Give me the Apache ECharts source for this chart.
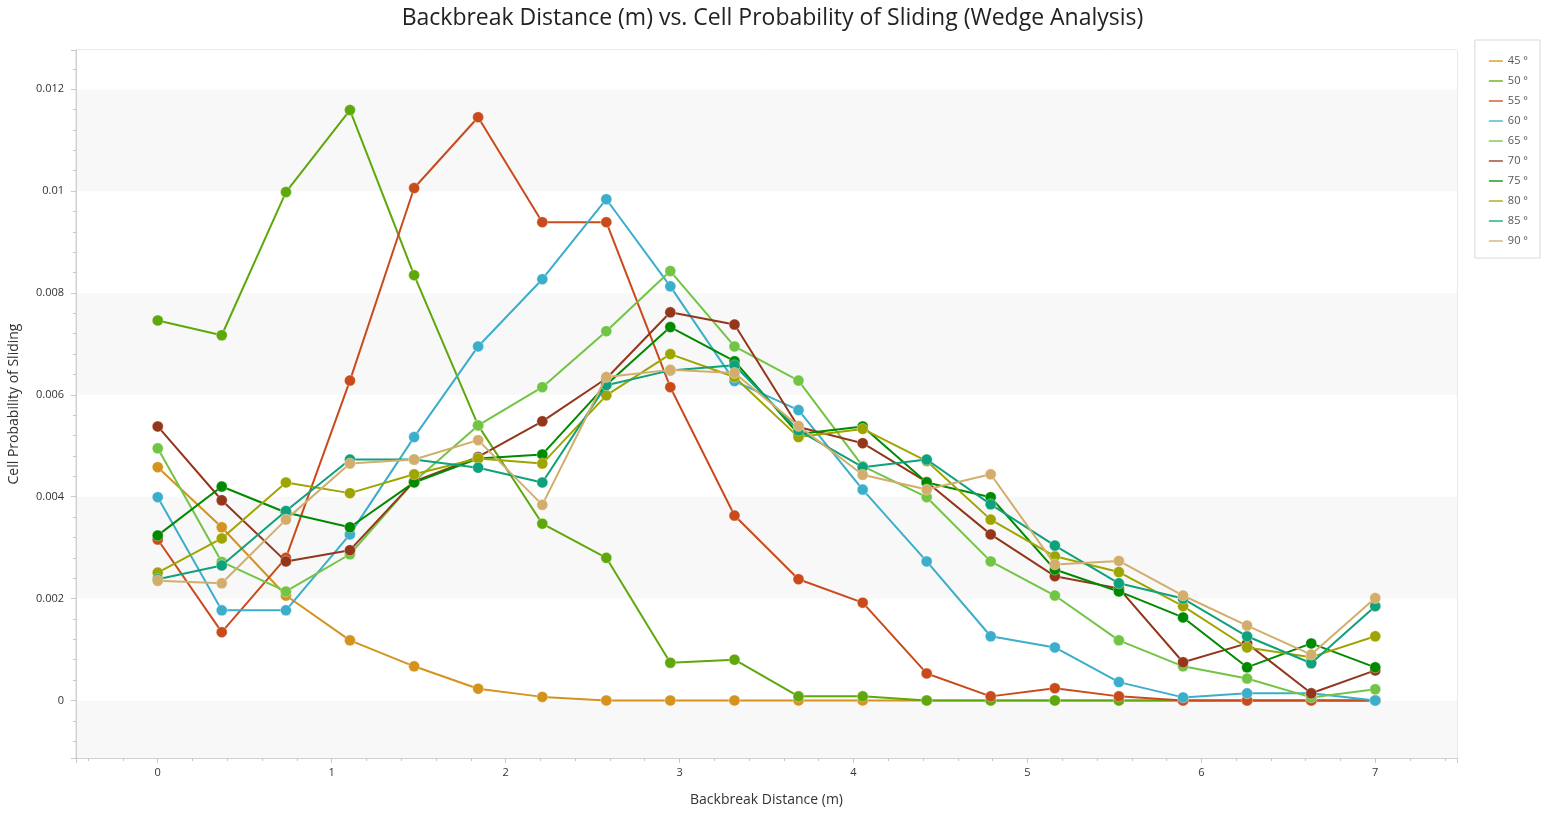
<!DOCTYPE html>
<html>
<head>
<meta charset="utf-8">
<script src="https://cdn.jsdelivr.net/npm/echarts@6/dist/echarts.min.js"></script>
<style>
html,body{margin:0;padding:0;background:#fff;}
#chart{width:1545px;height:815px;}
</style>
</head>
<body>
<div id="chart"></div>
<script>
const xValues = [0, 0.368, 0.737, 1.105, 1.474, 1.842, 2.211, 2.579, 2.947, 3.316, 3.684, 4.053, 4.421, 4.789, 5.158, 5.526, 5.895, 6.263, 6.632, 7];
const seriesNames = ['45 °', '50 °', '55 °', '60 °', '65 °', '70 °', '75 °', '80 °', '85 °', '90 °'];
const s45 = [0.00458, 0.0034, 0.00206, 0.00118, 0.00067, 0.00023, 0.00007, 0, 0, 0, 0, 0, 0, 0, 0, 0, 0, 0, 0, 0];
const s50 = [0.00746, 0.00717, 0.00998, 0.01159, 0.00835, 0.0054, 0.00347, 0.0028, 0.00074, 0.0008, 0.00008, 0.00008, 0, 0, 0, 0, 0, 0, 0, 0];
const s55 = [0.00316, 0.00134, 0.0028, 0.00628, 0.01006, 0.01145, 0.00939, 0.00939, 0.00615, 0.00363, 0.00238, 0.00192, 0.00053, 0.00008, 0.00024, 0.00008, 0, 0, 0, 0];
const s60 = [0.00399, 0.00177, 0.00177, 0.00326, 0.00517, 0.00695, 0.00827, 0.00984, 0.00813, 0.00627, 0.0057, 0.00414, 0.00273, 0.00126, 0.00104, 0.00036, 0.00006, 0.00014, 0.00014, 0];
const s65 = [0.00495, 0.00272, 0.00214, 0.00287, 0.0043, 0.0054, 0.00615, 0.00725, 0.00843, 0.00695, 0.00628, 0.0046, 0.00399, 0.00273, 0.00206, 0.00118, 0.00067, 0.00043, 0.00006, 0.00022];
const s70 = [0.00538, 0.00393, 0.00273, 0.00295, 0.0043, 0.00478, 0.00548, 0.00632, 0.00762, 0.00738, 0.00537, 0.00505, 0.00429, 0.00326, 0.00244, 0.0022, 0.00075, 0.00112, 0.00014, 0.00059];
const s75 = [0.00324, 0.0042, 0.00369, 0.0034, 0.00428, 0.00475, 0.00483, 0.0062, 0.00733, 0.00666, 0.00523, 0.00538, 0.00428, 0.00399, 0.00257, 0.00214, 0.00163, 0.00065, 0.00112, 0.00065];
const s80 = [0.00251, 0.00318, 0.00428, 0.00407, 0.00444, 0.00475, 0.00465, 0.00599, 0.0068, 0.00635, 0.00517, 0.00533, 0.0047, 0.00355, 0.00283, 0.00252, 0.00185, 0.00104, 0.00085, 0.00126];
const s85 = [0.00238, 0.00265, 0.00372, 0.00473, 0.00473, 0.00457, 0.00428, 0.00619, 0.00648, 0.00658, 0.0053, 0.00458, 0.00473, 0.00385, 0.00304, 0.0023, 0.002, 0.00126, 0.00073, 0.00185];
const s90 = [0.00235, 0.0023, 0.00355, 0.00465, 0.00473, 0.00511, 0.00384, 0.00635, 0.00649, 0.00643, 0.00539, 0.00443, 0.00414, 0.00444, 0.00267, 0.00274, 0.00206, 0.00147, 0.0009, 0.00201];
const allSeries = [s45, s50, s55, s60, s65, s70, s75, s80, s85, s90];
const colors = ['#D4921E', '#5FA80C', '#C94B1C', '#3AAECB', '#72C444', '#93361A', '#008A00', '#9FA500', '#0FA07C', '#D2AD6B'];

const FONT = '"Open Sans", "Noto Sans", sans-serif';
const chart = echarts.init(document.getElementById('chart'), null, {renderer: 'canvas'});

function isMultiple(v, step) {
  const r = v / step;
  return Math.abs(r - Math.round(r)) < 1e-6;
}

const option = {
  animation: false,
  color: colors,
  title: {
    text: 'Backbreak Distance (m) vs. Cell Probability of Sliding (Wedge Analysis)',
    left: 'center',
    top: 2,
    textStyle: {fontFamily: FONT, fontSize: 23, fontWeight: 'normal', color: '#222'}
  },
  legend: {
    orient: 'vertical',
    right: 5,
    top: 40,
    padding: [15, 12, 11, 13],
    borderColor: '#d8d8d8',
    borderWidth: 1,
    itemWidth: 14,
    itemHeight: 10,
    itemGap: 8,
    icon: 'path://M0,4 L14,4 L14,6 L0,6 Z',
    textStyle: {fontFamily: FONT, fontSize: 11, color: '#555', lineHeight: 12},
    data: seriesNames
  },
  grid: {
    left: 76, right: 88, top: 50, bottom: 57,
    containLabel: false,
    outerBoundsMode: 'none',
    show: true, borderColor: '#d4d4d4', borderWidth: 1, backgroundColor: 'transparent'
  },
  xAxis: {
    type: 'value',
    min: -0.47,
    max: 7.47,
    splitNumber: 8,
    name: 'Backbreak Distance (m)',
    nameLocation: 'middle',
    nameGap: 35,
    nameTextStyle: {fontFamily: FONT, fontSize: 14, color: '#333'},
    axisLine: {show: true, onZero: false, lineStyle: {color: '#d0d0d0'}},
    axisTick: {show: true, length: 5, lineStyle: {color: '#c8c8c8'}},
    minorTick: {show: true, splitNumber: 5, length: 3, lineStyle: {color: '#c8c8c8'}},
    splitLine: {show: false},
    axisLabel: {
      fontFamily: FONT, fontSize: 11, color: '#333', margin: 9,
      formatter: function (v) { return isMultiple(v, 1) ? String(Math.round(v)) : ''; }
    }
  },
  yAxis: {
    type: 'value',
    min: -0.00113,
    max: 0.01277,
    splitNumber: 7,
    name: 'Cell Probability of Sliding',
    nameLocation: 'middle',
    nameGap: 55,
    nameTextStyle: {fontFamily: FONT, fontSize: 14, color: '#333'},
    axisLine: {show: true, onZero: false, lineStyle: {color: '#d0d0d0'}},
    axisTick: {show: true, length: 5, lineStyle: {color: '#c8c8c8'}},
    minorTick: {show: true, splitNumber: 5, length: 3, lineStyle: {color: '#c8c8c8'}},
    splitLine: {show: false},
    splitArea: {show: true, areaStyle: {color: ['#f8f8f8', '#ffffff']}},
    axisLabel: {
      fontFamily: FONT, fontSize: 11, color: '#333', margin: 12,
      formatter: function (v) {
        if (!isMultiple(v, 0.002)) return '';
        const r = Math.round(v / 0.002) * 0.002;
        return String(parseFloat(r.toFixed(4)));
      }
    }
  },
  series: allSeries.map(function (vals, i) {
    return {
      name: seriesNames[i],
      type: 'line',
      data: vals.map(function (y, j) { return [xValues[j], y]; }),
      symbol: 'circle',
      symbolSize: 11,
      lineStyle: {width: 2, color: colors[i]},
      itemStyle: {color: colors[i], borderColor: 'rgba(255,255,255,0.35)', borderWidth: 1},
      z: 2 + i
    };
  })
};
chart.setOption(option);
</script>
</body>
</html>
